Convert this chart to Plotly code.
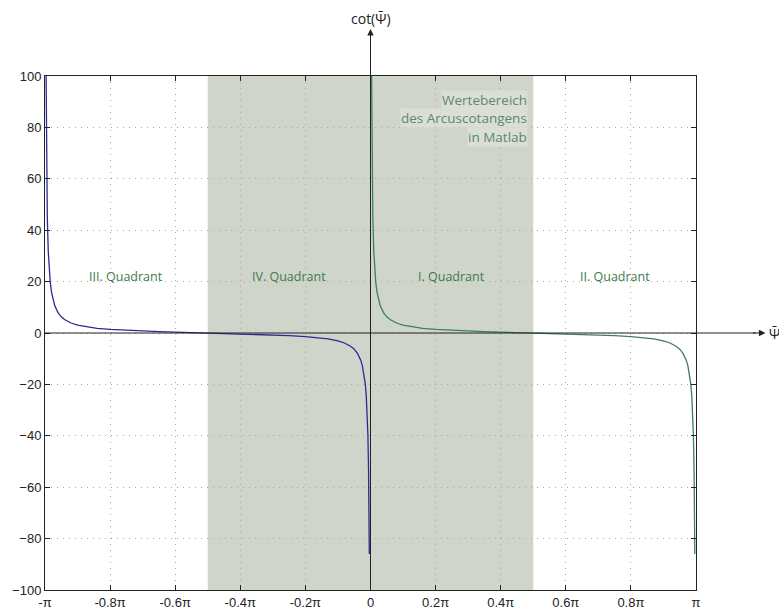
import plotly.graph_objects as go

# x values in units of pi, y values = cot
blue_x = [-0.997, -0.996, -0.995, -0.993, -0.99, -0.987, -0.984, -0.98, -0.975, -0.97,
          -0.96, -0.95, -0.94, -0.92, -0.9, -0.87, -0.84, -0.8, -0.75, -0.7, -0.65,
          -0.6, -0.55, -0.5, -0.45, -0.4, -0.35, -0.3, -0.25, -0.2, -0.16, -0.13,
          -0.1, -0.08, -0.06, -0.05, -0.04, -0.03, -0.025, -0.02, -0.016, -0.013,
          -0.01, -0.008, -0.006, -0.005, -0.0037]
blue_y = [106.1, 79.6, 63.66, 45.47, 31.82, 24.47, 19.88, 15.89, 12.71, 10.58,
          7.92, 6.31, 5.24, 3.89, 3.08, 2.31, 1.82, 1.376, 1.0, 0.7265, 0.5095,
          0.3249, 0.1584, 0.0, -0.1584, -0.3249, -0.5095, -0.7265, -1.0, -1.376, -1.82, -2.31,
          -3.08, -3.89, -5.24, -6.31, -7.92, -10.58, -12.71, -15.89, -19.88, -24.47,
          -31.82, -39.78, -53.05, -63.66, -86.0]

green_x = [0.003, 0.004, 0.005, 0.007, 0.01, 0.013, 0.016, 0.02, 0.025, 0.03,
           0.04, 0.05, 0.06, 0.08, 0.1, 0.13, 0.16, 0.2, 0.25, 0.3, 0.35,
           0.4, 0.45, 0.5, 0.55, 0.6, 0.65, 0.7, 0.75, 0.8, 0.84, 0.87,
           0.9, 0.92, 0.94, 0.95, 0.96, 0.97, 0.975, 0.98, 0.984, 0.987,
           0.99, 0.992, 0.994, 0.995, 0.9963]
green_y = [106.1, 79.6, 63.66, 45.47, 31.82, 24.47, 19.88, 15.89, 12.71, 10.58,
           7.92, 6.31, 5.24, 3.89, 3.08, 2.31, 1.82, 1.376, 1.0, 0.7265, 0.5095,
           0.3249, 0.1584, 0.0, -0.1584, -0.3249, -0.5095, -0.7265, -1.0, -1.376, -1.82, -2.31,
           -3.08, -3.89, -5.24, -6.31, -7.92, -10.58, -12.71, -15.89, -19.88, -24.47,
           -31.82, -39.78, -53.05, -63.66, -86.0]

x_ticks = [-1, -0.8, -0.6, -0.4, -0.2, 0, 0.2, 0.4, 0.6, 0.8, 1]
x_tick_labels = ["-π", "-0.8π", "-0.6π", "-0.4π", "-0.2π", "0", "0.2π", "0.4π", "0.6π", "0.8π", "π"]
y_ticks = [-100, -80, -60, -40, -20, 0, 20, 40, 60, 80, 100]

quadrant_labels = ["III. Quadrant", "IV. Quadrant", "I. Quadrant", "II. Quadrant"]
quadrant_x = [-0.75, -0.25, 0.25, 0.75]
quadrant_y = 22

range_lines = ["Wertebereich", "des Arcuscotangens", "in Matlab"]
range_y = [90.6, 83.6, 76.4]
shade_range = [-0.5, 0.5]

BLUE = "#2a2a95"
GREEN = "#3f7d5c"
TXT_GREEN = "#3d7a4c"
AX = "#222222"

fig = go.Figure()
fig.add_trace(go.Scatter(x=blue_x, y=blue_y, mode="lines",
                         line=dict(color=BLUE, width=1.3), showlegend=False))
fig.add_trace(go.Scatter(x=green_x, y=green_y, mode="lines",
                         line=dict(color=GREEN, width=1.3), showlegend=False))

# shaded range
fig.add_shape(type="rect", xref="x", yref="y", x0=shade_range[0], x1=shade_range[1],
              y0=-100, y1=100, fillcolor="#d0d5cc", line=dict(width=0), layer="below")

# coordinate axes extending beyond the box
fig.add_shape(type="line", xref="paper", yref="y", x0=0, x1=1.092, y0=0, y1=0,
              line=dict(color=AX, width=1))
fig.add_shape(type="line", xref="x", yref="paper", x0=0, x1=0, y0=0, y1=1.08,
              line=dict(color=AX, width=1))
fig.add_annotation(x=1.1066, y=0, xref="paper", yref="y", ax=-14, ay=0,
                   showarrow=True, arrowhead=2, arrowsize=1.3, arrowwidth=1,
                   arrowcolor=AX, text="")
fig.add_annotation(x=0, y=1.0914, xref="x", yref="paper", ax=0, ay=14,
                   showarrow=True, arrowhead=2, arrowsize=1.3, arrowwidth=1,
                   arrowcolor=AX, text="")
fig.add_annotation(x=1.109, y=0, xref="paper", yref="y", xanchor="left", yanchor="middle",
                   showarrow=False, text="Ψ̄",
                   font=dict(family="Open Sans", size=14, color=AX))
fig.add_annotation(x=0, y=1.111, xref="x", yref="paper", xanchor="center", yanchor="middle",
                   showarrow=False, text="cot(Ψ̄)",
                   font=dict(family="Open Sans", size=14, color=AX))

for lbl, qx in zip(quadrant_labels, quadrant_x):
    fig.add_annotation(x=qx, y=quadrant_y, xref="x", yref="y", showarrow=False, text=lbl,
                       font=dict(family="Open Sans", size=12.5, color=TXT_GREEN))

for line, ly in zip(range_lines, range_y):
    fig.add_annotation(x=0.485, y=ly, xref="x", yref="y", xanchor="right",
                       yanchor="middle", showarrow=False, text=line,
                       bgcolor="#dbded7", borderpad=0,
                       font=dict(family="Open Sans", size=13.5, color="#5a8a65"))

grid = dict(showgrid=True, gridcolor="#a8a8a8", gridwidth=1, griddash="1px,5px",
            zeroline=False, showline=True, linecolor=AX, linewidth=1, mirror="ticks",
            ticks="inside", ticklen=5, tickcolor=AX, automargin=False,
            tickfont=dict(family="Liberation Sans", size=13, color=AX))

fig.update_xaxes(range=[-1, 1], tickvals=x_ticks, ticktext=x_tick_labels, **grid)
fig.update_yaxes(range=[-100, 100], tickvals=y_ticks, **grid)

fig.update_layout(width=779, height=612, plot_bgcolor="white", paper_bgcolor="white",
                  margin=dict(l=44.5, r=83, t=76, b=21.5), showlegend=False)

fig.write_html("out.html", config={"displayModeBar": False},
               post_script="document.body.style.margin='0';document.body.style.overflow='hidden';")
